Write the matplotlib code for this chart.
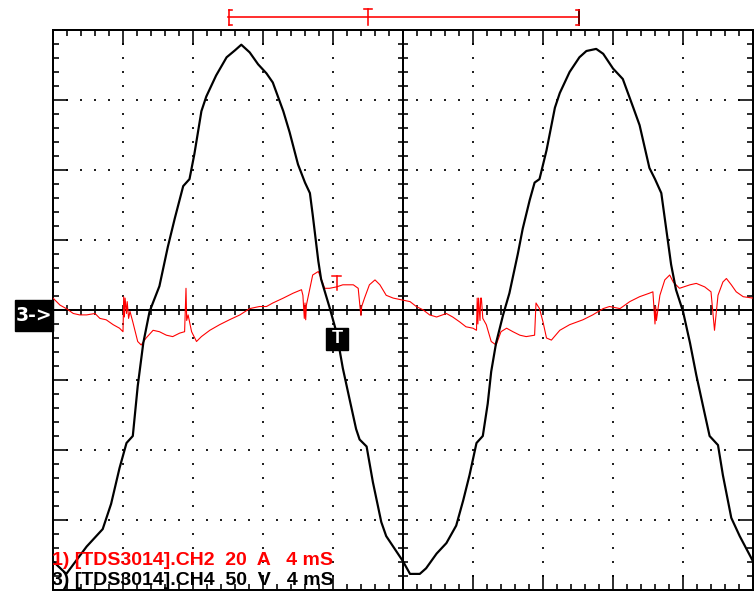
import numpy as np
import matplotlib
matplotlib.use("Agg")
import matplotlib.pyplot as plt
from matplotlib.patches import Rectangle
from matplotlib.ticker import MultipleLocator

# ---------------- data (in screen divisions: x 0..10, y -4..4) ----------------
ch4_x = [0.00, 0.19, 0.48, 0.71, 0.83, 0.95, 1.05, 1.14, 1.21, 1.29, 1.38, 1.52,
         1.64, 1.74, 1.86, 1.95, 2.02, 2.12, 2.19, 2.33, 2.48, 2.60, 2.69, 2.81,
         2.93, 3.05, 3.14, 3.29, 3.38, 3.50, 3.60, 3.67, 3.71, 3.79, 3.83, 3.95,
         4.05, 4.14, 4.24, 4.33, 4.38, 4.48, 4.57, 4.69, 4.76, 4.86, 5.00,
         5.10, 5.24, 5.33, 5.48, 5.62, 5.76, 5.86, 5.95, 6.05, 6.14, 6.21, 6.26,
         6.33, 6.43, 6.52, 6.64, 6.71, 6.81, 6.88, 6.95, 7.05, 7.17, 7.24, 7.38,
         7.52, 7.62, 7.76, 7.86, 8.00, 8.14, 8.29, 8.38, 8.52, 8.60, 8.69, 8.76,
         8.83, 8.90, 9.00, 9.10, 9.19, 9.29, 9.38, 9.50, 9.57, 9.69, 9.81, 10.00]
ch4_y = [-3.59, -3.77, -3.38, -3.13, -2.77, -2.26, -1.90, -1.80, -1.09, -0.47, -0.02, 0.34,
         0.90, 1.31, 1.77, 1.87, 2.23, 2.84, 3.05, 3.35, 3.61, 3.71, 3.79, 3.68,
         3.51, 3.38, 3.25, 2.84, 2.54, 2.08, 1.82, 1.67, 1.36, 0.70, 0.44, 0.04,
         -0.32, -0.83, -1.29, -1.70, -1.85, -1.95, -2.46, -3.03, -3.23, -3.38, -3.59,
         -3.77, -3.77, -3.69, -3.48, -3.33, -3.08, -2.72, -2.36, -1.90, -1.80, -1.34, -0.88,
         -0.47, -0.07, 0.24, 0.80, 1.16, 1.57, 1.82, 1.87, 2.28, 2.89, 3.10, 3.40,
         3.61, 3.70, 3.73, 3.66, 3.45, 3.30, 2.89, 2.64, 2.03, 1.87, 1.67, 1.16,
         0.65, 0.29, -0.02, -0.47, -0.93, -1.39, -1.80, -1.93, -2.36, -2.97, -3.23, -3.59]

ch2_x = [0.00, 0.05, 0.10, 0.19, 0.29, 0.38, 0.48, 0.60, 0.67, 0.76, 0.86, 0.95,
         1.00, 1.01, 1.02, 1.03, 1.05, 1.06, 1.08, 1.10, 1.14, 1.21, 1.26, 1.33,
         1.43, 1.52, 1.62, 1.71, 1.81, 1.88, 1.90, 1.91, 1.93, 1.98, 2.05, 2.12,
         2.24, 2.38, 2.52, 2.67, 2.81, 2.95, 3.05, 3.14, 3.29, 3.43, 3.55, 3.57,
         3.59, 3.60, 3.61, 3.62, 3.67, 3.71, 3.79, 3.83, 3.88, 3.95, 4.05, 4.14,
         4.29, 4.36, 4.39, 4.40, 4.41, 4.45, 4.52, 4.60, 4.67, 4.76, 4.86, 5.00,
         5.10, 5.19, 5.29, 5.38, 5.48, 5.62, 5.71, 5.81, 5.90, 6.00, 6.05, 6.06,
         6.07, 6.08, 6.10, 6.11, 6.12, 6.14, 6.19, 6.26, 6.33, 6.40, 6.48, 6.57,
         6.67, 6.76, 6.88, 6.90, 6.95, 7.00, 7.05, 7.12, 7.24, 7.38, 7.57, 7.71,
         7.86, 7.95, 8.10, 8.24, 8.38, 8.52, 8.57, 8.59, 8.60, 8.61, 8.62, 8.67,
         8.74, 8.81, 8.86, 8.95, 9.10, 9.19, 9.31, 9.40, 9.45, 9.50, 9.57, 9.62,
         9.69, 9.76, 9.86, 10.00]
ch2_y = [0.17, 0.12, 0.07, 0.02, -0.05, -0.07, -0.07, -0.05, -0.12, -0.14, -0.21, -0.26,
         -0.31, 0.19, -0.10, 0.17, -0.05, 0.12, -0.12, -0.02, -0.17, -0.45, -0.50, -0.40,
         -0.29, -0.31, -0.36, -0.38, -0.33, -0.31, 0.31, -0.15, -0.07, -0.31, -0.45, -0.38,
         -0.29, -0.21, -0.14, -0.07, 0.02, 0.05, 0.05, 0.10, 0.17, 0.24, 0.29, 0.21,
         -0.12, 0.10, -0.14, 0.07, 0.31, 0.50, 0.55, 0.45, 0.31, 0.31, 0.33, 0.36,
         0.36, 0.31, 0.00, -0.08, 0.05, 0.17, 0.36, 0.43, 0.36, 0.21, 0.17, 0.14,
         0.12, 0.05, 0.00, -0.07, -0.10, -0.05, -0.10, -0.17, -0.24, -0.26, -0.29, 0.17,
         -0.20, 0.17, -0.15, 0.17, 0.17, -0.12, -0.21, -0.45, -0.50, -0.31, -0.26, -0.31,
         -0.36, -0.38, -0.36, 0.10, 0.02, -0.17, -0.40, -0.43, -0.29, -0.21, -0.14, -0.07,
         0.02, 0.05, 0.02, 0.12, 0.19, 0.24, 0.26, -0.05, -0.20, 0.05, -0.15, 0.21,
         0.43, 0.50, 0.40, 0.31, 0.36, 0.38, 0.33, 0.26, -0.29, 0.21, 0.40, 0.45,
         0.36, 0.26, 0.19, 0.17]

label_ch2 = "1) [TDS3014].CH2  20  A   4 mS"
label_ch4 = "3) [TDS3014].CH4  50  V   4 mS"
ref_marker = "3->"
trig_marker = "T"

# ---------------- figure ----------------
W, H = 754, 591
DPI = 100
px = 72.0 / DPI  # points per pixel
fig = plt.figure(figsize=(W / DPI, H / DPI), dpi=DPI, facecolor="white")
ax = fig.add_axes([53 / W, 1 / H, 700 / W, 560 / H])
ax.set_xlim(0, 10)
ax.set_ylim(-4, 4)
ax.set_facecolor("white")
for s in ax.spines.values():
    s.set_linewidth(2 * px)
    s.set_color("black")

ax.xaxis.set_major_locator(MultipleLocator(1))
ax.xaxis.set_minor_locator(MultipleLocator(0.2))
ax.yaxis.set_major_locator(MultipleLocator(1))
ax.yaxis.set_minor_locator(MultipleLocator(0.2))
ax.tick_params(which="both", direction="in", top=True, right=True, bottom=True, left=True,
               labelbottom=False, labelleft=False, color="black")
ax.tick_params(which="major", length=15 * px, width=1.6 * px)
ax.tick_params(which="minor", length=6 * px, width=1.6 * px)

# dotted graticule
steps = np.arange(0, 10.001, 0.2)
vsteps = np.arange(-4, 4.001, 0.2)
for gx in [1, 2, 3, 4, 6, 7, 8, 9]:
    ax.plot(np.full_like(vsteps, gx), vsteps, ls="none", marker="s", ms=2 * px,
            mew=0, color="#222222", zorder=1)
for gy in [-3, -2, -1, 1, 2, 3]:
    ax.plot(steps, np.full_like(steps, gy), ls="none", marker="s", ms=2 * px,
            mew=0, color="#222222", zorder=1)

# centre cross with tick marks
ax.axhline(0, color="black", lw=2 * px, zorder=2)
ax.axvline(5, color="black", lw=2 * px, zorder=2)
ax.plot(steps, np.zeros_like(steps), ls="none", marker="|", ms=10 * px, mew=1.6 * px,
        color="black", zorder=2)
ax.plot(np.full_like(vsteps, 5), vsteps, ls="none", marker="_", ms=10 * px, mew=1.6 * px,
        color="black", zorder=2)

# traces
ax.plot(ch2_x, ch2_y, color="#ff0000", lw=1.1 * px, zorder=3)
ax.plot(ch4_x, ch4_y, color="black", lw=2.2 * px, zorder=4)

# trigger level marker (red T)
ax.plot([3.98, 4.12], [0.48, 0.48], color="#ff0000", lw=1.5 * px, zorder=5)
ax.plot([4.05, 4.05], [0.48, 0.29], color="#ff0000", lw=1.5 * px, zorder=5)

# black trigger box
ax.add_patch(Rectangle((4.06 - 11 / 70, -0.41 - 11 / 70), 22 / 70, 22 / 70,
                       facecolor="black", edgecolor="black", zorder=6))
ax.text(4.06, -0.41, trig_marker, color="white", fontsize=13, fontweight="bold",
        family="Liberation Sans", ha="center", va="center", zorder=7)

# channel reference marker "3->"
ax.add_patch(Rectangle((-38 / 70, -21 / 70), 38 / 70, 31 / 70, facecolor="black",
                       edgecolor="black", clip_on=False, zorder=6))
ax.text(-19 / 70, -5.5 / 70, ref_marker, color="white", fontsize=13.5, fontweight="bold",
        family="DejaVu Sans", ha="center", va="center", clip_on=False, zorder=7)

# record window bracket at the top
yb = 4 + 12.7 / 70
y0, y1 = 4 + 5 / 70, 4 + 20 / 70
kw = dict(color="#ff0000", lw=1.6 * px, clip_on=False, zorder=5)
ax.plot([2.5, 7.52], [yb, yb], **kw)
ax.plot([2.51, 2.51], [y0, y1], **kw)
ax.plot([2.51, 2.56], [y1, y1], **kw)
ax.plot([2.51, 2.56], [y0, y0], **kw)
ax.plot([7.52, 7.52], [y0, y1], color="#660000", lw=2 * px, clip_on=False, zorder=5)
ax.plot([7.47, 7.52], [y1, y1], **kw)
ax.plot([7.47, 7.52], [y0, y0], **kw)
ax.plot([4.5, 4.5], [y0, 4 + 21 / 70], **kw)
ax.plot([4.44, 4.56], [4 + 21 / 70, 4 + 21 / 70], **kw)

# channel labels
fig.text(52 / W, (H - 565) / H, label_ch2, color="#ff0000", fontsize=14,
         fontweight="bold", family="Liberation Sans", ha="left", va="baseline", zorder=8)
fig.text(52 / W, (H - 585) / H, label_ch4, color="black", fontsize=14,
         fontweight="bold", family="Liberation Sans", ha="left", va="baseline", zorder=8)

fig.savefig("out.png", dpi=DPI, facecolor="white")
